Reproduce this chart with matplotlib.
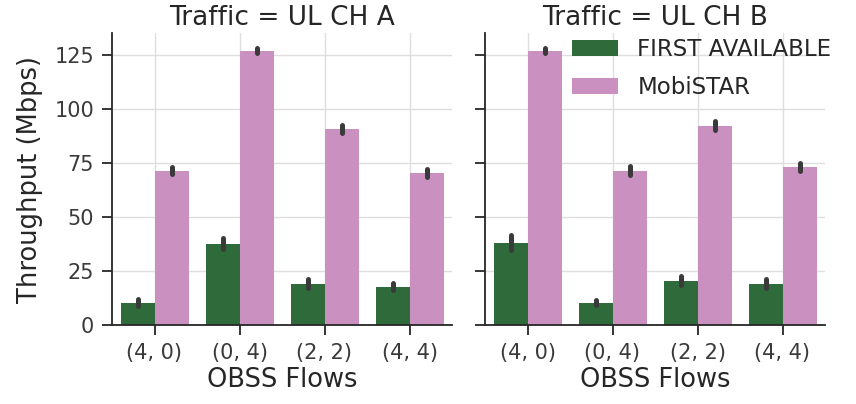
import numpy as np
import matplotlib
matplotlib.use("Agg")
import matplotlib.pyplot as plt

categories = ["(4, 0)", "(0, 4)", "(2, 2)", "(4, 4)"]
panels = ["UL CH A", "UL CH B"]
series = ["FIRST AVAILABLE", "MobiSTAR"]

fa_a = [10.3, 37.5, 19.1, 17.7]
ms_a = [71.4, 126.9, 90.7, 70.4]
fa_b = [38.1, 10.3, 20.5, 19.1]
ms_b = [126.9, 71.4, 92.1, 73.0]

fa_a_err = [1.5, 2.5, 2.0, 1.5]
ms_a_err = [1.5, 1.3, 1.8, 1.8]
fa_b_err = [3.5, 1.2, 2.0, 2.0]
ms_b_err = [1.3, 2.0, 2.0, 1.8]

colors = ["#2f6b3a", "#c990c0"]
text_color = "#262626"

plt.rcParams["font.family"] = ["DejaVu Sans"]

W, H = 856, 404
fig = plt.figure(figsize=(W / 100, H / 100), dpi=100)
ax_l = fig.add_axes([112 / W, 1 - 325 / H, 340 / W, 292 / H])
ax_r = fig.add_axes([485 / W, 1 - 325 / H, 340 / W, 292 / H], sharey=ax_l)

data = {
    "UL CH A": ([fa_a, ms_a], [fa_a_err, ms_a_err]),
    "UL CH B": ([fa_b, ms_b], [fa_b_err, ms_b_err]),
}

x = np.arange(len(categories))
width = 0.4
for ax, panel in zip([ax_l, ax_r], panels):
    vals, errs = data[panel]
    ax.set_axisbelow(True)
    for i, (v, e, c, name) in enumerate(zip(vals, errs, colors, series)):
        pos = x + (i - 0.5) * width
        ax.bar(pos, v, width=width, color=c, label=name, zorder=2)
        eb = ax.errorbar(pos, v, yerr=e, fmt="none", ecolor="#3a3a3a",
                         elinewidth=3.6, capsize=0, zorder=3)
        for lc in eb.lines[2]:
            lc.set_capstyle("round")
    ax.set_xlim(-0.5, 3.5)
    ax.set_ylim(0, 135)
    ax.set_xticks(x)
    ax.set_xticklabels(categories)
    ax.set_yticks([0, 25, 50, 75, 100, 125])
    ax.grid(True, color="#dedede", linewidth=1.0, zorder=0)
    for s in ["top", "right"]:
        ax.spines[s].set_visible(False)
    for s in ["left", "bottom"]:
        ax.spines[s].set_color(text_color)
        ax.spines[s].set_linewidth(1.3)
    ax.tick_params(axis="both", length=7, width=1.3, color=text_color,
                   labelsize=15, labelcolor="#3a3a3a", pad=6)
    ax.set_xlabel("OBSS Flows", fontsize=18.5, color=text_color, labelpad=3)
    ax.set_title(f"Traffic = {panel}", fontsize=19, color=text_color, pad=6)

ax_l.set_ylabel("Throughput (Mbps)", fontsize=18.5, color=text_color, labelpad=8)
ax_r.tick_params(axis="y", labelleft=False)

handles, labels = ax_r.get_legend_handles_labels()
leg = fig.legend(handles, labels, loc="upper left",
                 bbox_to_anchor=(572 / W, 1 - 38 / H), frameon=False,
                 fontsize=16.5, handlelength=2.0, handleheight=0.75,
                 handletextpad=0.85, labelspacing=0.65,
                 borderpad=0, borderaxespad=0)
for t in leg.get_texts():
    t.set_color(text_color)

fig.savefig("out.png", dpi=100, facecolor="white")
